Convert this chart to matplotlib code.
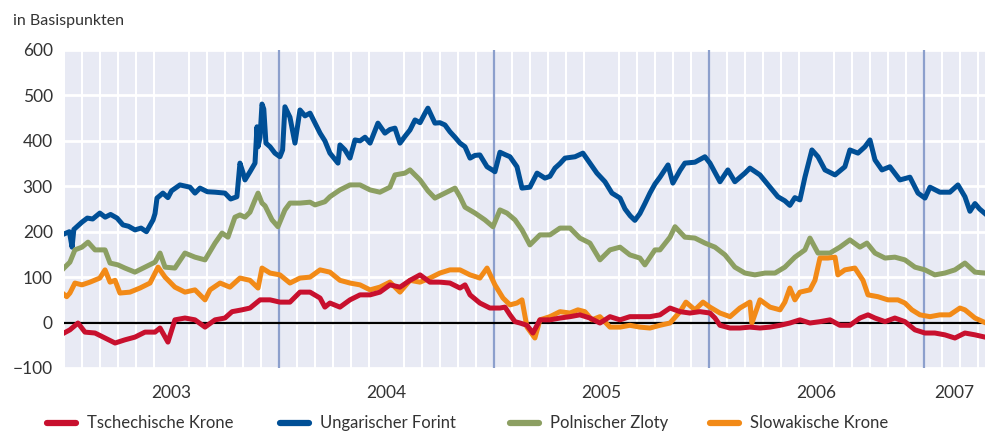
import matplotlib.pyplot as plt
from matplotlib.lines import Line2D
from matplotlib.ticker import MultipleLocator

# Zeit in Monaten seit Januar 2003, Werte in Basispunkten
huf_t = [0, 0.3, 0.45, 0.55, 1.0, 1.3, 1.6, 2.0, 2.3, 2.6, 2.96, 3.29, 3.6, 3.96, 4.3, 4.6, 4.97,
         5.08, 5.19, 5.52, 5.8, 6.0, 6.47, 7.03, 7.31, 7.59, 8.0, 8.43, 8.98, 9.3, 9.65, 9.82, 9.99,
         10.1, 10.38, 10.66, 10.77, 10.83, 10.94, 11.05, 11.15, 11.27, 11.5, 11.77, 12.05, 12.2,
         12.33, 12.61, 12.89, 13.17, 13.45, 13.73, 14.01, 14.29, 14.56, 14.84, 15.29, 15.4, 15.68,
         15.96, 16.24, 16.52, 16.8, 17.08, 17.52, 17.91, 18.19, 18.47, 18.75, 19.03, 19.31, 19.59,
         19.87, 20.15, 20.31, 20.7, 20.98, 21.26, 21.54, 21.82, 22.1, 22.38, 22.66, 22.94, 23.21,
         23.61, 23.94, 24.05, 24.33, 24.6, 24.89, 25.28, 25.56, 26.0, 26.4, 26.84, 27.12, 27.4,
         27.68, 27.96, 28.52, 28.96, 29.35, 29.74, 30.19, 30.58, 31.03, 31.31, 31.6, 31.86, 32.14,
         32.42, 32.7, 32.98, 33.26, 33.71, 33.98, 34.38, 34.65, 35.21, 35.77, 36.05, 36.61, 37.05,
         37.44, 38.0, 38.28, 38.84, 39.4, 39.84, 40.23, 40.51, 40.79, 41.07, 41.35, 41.74, 42.08,
         42.47, 43.03, 43.58, 43.86, 44.31, 44.7, 44.98, 45.26, 45.65, 46.09, 46.65, 47.21, 47.66,
         48.05, 48.33, 48.88, 49.44, 49.89, 50.28, 50.56, 50.84, 51.1, 51.4]
huf = [195, 200, 166, 205, 221, 230, 228, 241, 232, 238, 230, 215, 212, 204, 208, 200, 226,
       240, 274, 285, 275, 290, 303, 298, 285, 296, 288, 287, 285, 272, 277, 351, 330,
       314, 332, 351, 431, 387, 408, 481, 470, 395, 387, 373, 365, 380,
       475, 452, 395, 468, 455, 461, 439, 417, 400, 373, 351, 391, 380,
       362, 402, 400, 408, 395, 439, 417, 425, 428, 395, 410, 424, 446,
       440, 461, 472, 439, 440, 435, 420, 408, 395, 387, 362, 368, 369,
       343, 335, 332, 375, 370, 365, 343, 296, 298, 329, 318, 322, 340,
       350, 362, 365, 373, 351, 329, 310, 285, 274, 250, 235, 225, 240,
       262, 285, 305, 320, 347, 307, 335, 351, 353, 365, 351, 310, 336,
       310, 329, 340, 325, 298, 277, 268, 258, 275, 270, 320, 380, 365,
       336, 325, 343, 380, 373, 387, 402, 358, 336, 343, 314, 320, 285,
       274, 298, 287, 287, 303, 277, 245, 262, 250, 240]

pln_t = [0, 0.33, 0.61, 1.0, 1.34, 1.73, 2.29, 2.57, 3.01, 3.4, 3.96, 4.52, 5.08, 5.36, 5.64,
         6.19, 6.75, 7.31, 7.87, 8.43, 8.82, 9.15, 9.54, 9.82, 10.1, 10.38, 10.66, 10.83, 11.05,
         11.22, 11.61, 11.94, 12.33, 12.61, 13.17, 13.73, 14.01, 14.56, 14.84, 15.4, 15.96, 16.52,
         17.08, 17.63, 18.19, 18.47, 19.03, 19.31, 19.87, 20.31, 20.7, 21.26, 21.82, 22.1, 22.38,
         22.94, 23.49, 23.94, 24.33, 24.72, 25.17, 25.56, 26.0, 26.56, 27.12, 27.68, 28.24, 28.79,
         29.35, 29.91, 30.47, 31.03, 31.58, 32.14, 32.42, 32.98, 33.26, 33.82, 34.1, 34.65, 35.21,
         35.77, 36.33, 36.89, 37.44, 38.0, 38.56, 39.12, 39.68, 40.23, 40.79, 41.35, 41.63, 42.08,
         42.75, 43.3, 43.86, 44.42, 44.81, 45.26, 45.82, 46.37, 46.93, 47.49, 48.05, 48.6, 49.16,
         49.72, 50.28, 50.84, 51.4]
pln = [120, 133, 160, 166, 177, 160, 160, 131, 127, 120, 111, 122, 133, 153, 122,
       120, 153, 144, 138, 175, 197, 188, 232, 237, 232, 243, 270, 285, 263,
       257, 226, 211, 248, 263, 263, 265, 259, 266, 277, 292, 303, 303,
       292, 287, 298, 325, 329, 336, 314, 290, 274, 285, 296, 277, 254,
       241, 226, 211, 248, 241, 226, 204, 171, 193, 193, 208, 208, 186,
       175, 138, 160, 166, 149, 142, 127, 160, 160, 188, 211, 188, 186,
       175, 166, 149, 122, 109, 105, 109, 109, 122, 144, 160, 186, 153,
       153, 166, 182, 166, 175, 153, 142, 144, 138, 122, 116, 105, 109,
       116, 131, 111, 109]

skk_t = [0, 0.15, 0.33, 0.61, 1.0, 1.45, 2.0, 2.29, 2.57, 2.85, 3.12, 3.68, 4.24, 4.8, 5.25,
         5.64, 6.19, 6.75, 7.31, 7.87, 8.15, 8.71, 9.26, 9.82, 10.38, 10.83, 11.05, 11.5, 12.05,
         12.61, 13.17, 13.73, 14.29, 14.84, 15.4, 15.96, 16.52, 17.08, 17.63, 18.19, 18.75, 19.31,
         19.87, 20.42, 20.98, 21.54, 22.1, 22.66, 23.21, 23.61, 24.05, 24.5, 24.89, 25.28, 25.56,
         25.84, 26.28, 26.56, 27.12, 27.68, 28.24, 28.68, 29.07, 29.46, 29.91, 30.47, 31.03, 31.58,
         32.14, 32.7, 33.26, 33.82, 34.38, 34.71, 35.21, 35.66, 36.05, 36.61, 37.17, 37.72, 38.28,
         38.39, 38.84, 39.4, 39.96, 40.23, 40.51, 40.79, 41.07, 41.63, 41.91, 42.19, 42.63, 43.03,
         43.19, 43.58, 44.14, 44.59, 44.87, 45.42, 45.98, 46.54, 46.93, 47.32, 47.77, 48.33, 48.88,
         49.44, 50.0, 50.28, 50.84, 51.4]
skk = [62, 57, 65, 87, 83, 89, 98, 116, 89, 93, 65, 67, 76, 87, 122,
       100, 78, 67, 72, 50, 72, 87, 78, 98, 93, 76, 120, 109, 105,
       87, 98, 100, 116, 111, 93, 87, 83, 72, 78, 89, 67, 93,
       89, 98, 109, 116, 116, 105, 98, 120, 83, 54, 39, 43, 50,
       -10, -34, 6, 13, 24, 21, 28, 24, 6, 13, -10, -10, -6,
       -10, -12, -6, -1, 24, 45, 28, 45, 34, 21, 13, 32, 45,
       -1, 50, 34, 28, 45, 76, 50, 67, 72, 93, 142, 142, 144,
       105, 116, 120, 93, 61, 57, 50, 50, 43, 28, 17, 13, 17,
       17, 32, 28, 10, 0]

czk_t = [0, 0.33, 0.78, 1.17, 1.73, 2.29, 2.85, 3.4, 3.96, 4.52, 5.08, 5.36, 5.8, 6.19, 6.75,
         7.31, 7.87, 8.43, 8.98, 9.38, 9.93, 10.38, 10.94, 11.5, 12.05, 12.61, 13.17, 13.73, 14.29,
         14.56, 14.84, 15.4, 15.96, 16.52, 17.08, 17.63, 18.19, 18.75, 19.31, 19.87, 20.42, 20.98,
         21.54, 22.1, 22.38, 22.66, 23.21, 23.77, 24.33, 24.61, 24.89, 25.17, 25.45, 25.84, 26.17,
         26.56, 27.12, 27.68, 28.24, 28.79, 29.35, 29.91, 30.47, 31.03, 31.58, 32.14, 32.7, 33.26,
         33.82, 34.38, 34.93, 35.49, 36.05, 36.33, 36.61, 37.17, 37.72, 38.28, 38.84, 39.4, 39.96,
         40.51, 41.07, 41.63, 42.19, 42.75, 43.3, 43.86, 44.42, 44.87, 45.26, 45.82, 46.37, 46.93,
         47.49, 48.05, 48.6, 49.16, 49.72, 50.28, 50.84, 51.4]
czk = [-23, -16, -1, -21, -23, -34, -45, -38, -32, -21, -21, -12, -43, 6, 10,
       6, -10, 6, 10, 24, 28, 32, 50, 50, 45, 45, 67, 67, 54,
       34, 43, 34, 50, 61, 61, 67, 83, 78, 93, 105, 89, 89,
       87, 76, 83, 61, 43, 32, 32, 34, 17, 2, -1, -6, -23,
       6, 6, 10, 13, 17, 10, -1, 13, 6, 13, 13, 13, 17,
       32, 24, 21, 24, 21, 10, -6, -12, -12, -10, -12, -10, -6,
       -1, 6, -1, 2, 6, -6, -6, 10, 17, 10, 2, 10, 2,
       -16, -23, -23, -27, -34, -23, -27, -32]

jahre = ["2003", "2004", "2005", "2006", "2007"]
jahr_mitte = [6, 18, 30, 42, 49.7]
jahr_grenzen = [12, 24, 36, 48]

labels = ["Tschechische Krone", "Ungarischer Forint", "Polnischer Zloty", "Slowakische Krone"]
farben = ["#c8102e", "#004f96", "#8c9f62", "#f28a17"]

plt.rcParams["font.family"] = ["Lato", "DejaVu Sans"]
textfarbe = "#333333"

fig = plt.figure(figsize=(9.85, 4.33), dpi=100)
ax = fig.add_axes([64 / 985, 1 - 368 / 433, 921 / 985, 318 / 433])
ax.set_facecolor("#e8eaf4")

ax.set_xlim(0, 51.4)
ax.set_ylim(-100, 600)

# Gitter: waagerecht alle 100, senkrecht jeden Monat
ax.yaxis.set_major_locator(MultipleLocator(100))
ax.xaxis.set_minor_locator(MultipleLocator(1))
ax.grid(axis="y", which="major", color="white", lw=2)
ax.grid(axis="x", which="minor", color="white", lw=1.5)
ax.set_axisbelow(True)
for g in jahr_grenzen:
    ax.axvline(g, color="#8c9fcc", lw=1.6, zorder=1.5)
ax.axhline(0, color="black", lw=1.6, zorder=1.6)

ax.plot(huf_t, huf, color=farben[1], lw=3.6, zorder=3)
ax.plot(pln_t, pln, color=farben[2], lw=3.6, zorder=3)
ax.plot(skk_t, skk, color=farben[3], lw=3.6, zorder=3)
ax.plot(czk_t, czk, color=farben[0], lw=3.6, zorder=4)

ax.set_xticks(jahr_mitte)
ax.set_xticklabels(jahre)
ax.set_yticks(range(-100, 601, 100))
ax.set_yticklabels([str(v).replace("-", "\u2212") for v in range(-100, 601, 100)])
ax.tick_params(axis="both", which="both", length=0, labelsize=12.5, colors=textfarbe)
ax.tick_params(axis="x", pad=12)
ax.tick_params(axis="y", pad=8)
for s in ax.spines.values():
    s.set_visible(False)

fig.text(13 / 985, 1 - 21 / 433, "in Basispunkten", fontsize=11.5, color=textfarbe, va="center")

# Legende unten, von Hand gesetzt
hx = [47, 280, 510, 710]
ly = 1 - 423 / 433
for x0, lab, col in zip(hx, labels, farben):
    fig.add_artist(Line2D([x0 / 985, (x0 + 29) / 985], [ly, ly], color=col, lw=4.5,
                          solid_capstyle="round", transform=fig.transFigure))
    fig.text((x0 + 40) / 985, ly, lab, fontsize=12, color=textfarbe, va="center")

fig.savefig("out.png", dpi=100)
